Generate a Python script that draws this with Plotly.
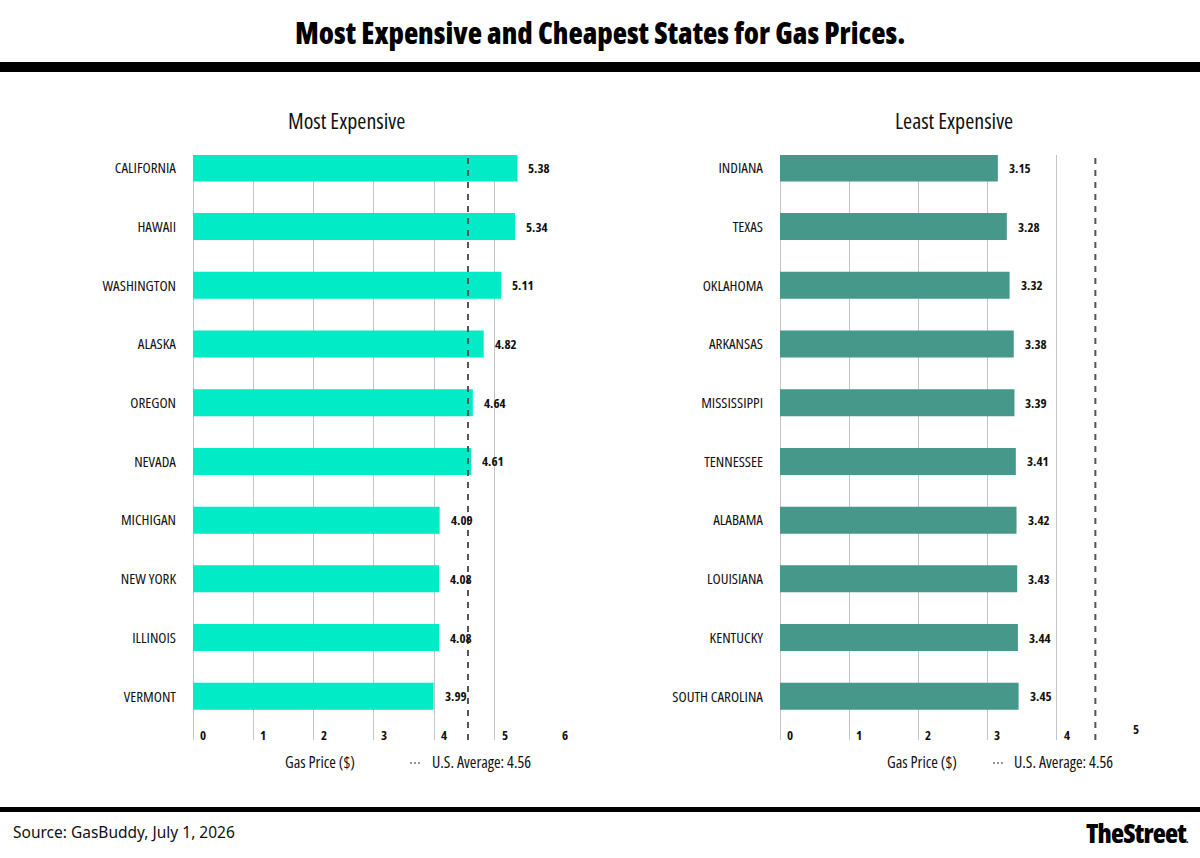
import plotly.graph_objects as go

# ---- data ----
exp_states = ["CALIFORNIA", "HAWAII", "WASHINGTON", "ALASKA", "OREGON",
              "NEVADA", "MICHIGAN", "NEW YORK", "ILLINOIS", "VERMONT"]
exp_prices = [5.38, 5.34, 5.11, 4.82, 4.64, 4.61, 4.09, 4.08, 4.08, 3.99]

cheap_states = ["INDIANA", "TEXAS", "OKLAHOMA", "ARKANSAS", "MISSISSIPPI",
                "TENNESSEE", "ALABAMA", "LOUISIANA", "KENTUCKY", "SOUTH CAROLINA"]
cheap_prices = [3.15, 3.28, 3.32, 3.38, 3.39, 3.41, 3.42, 3.43, 3.44, 3.45]

us_average = 4.56
left_ticks = [0, 1, 2, 3, 4, 5, 6]
right_ticks = [0, 1, 2, 3, 4, 5]

title_text = "Most Expensive and Cheapest States for Gas Prices."
left_title = "Most Expensive"
right_title = "Least Expensive"
source_text = "Source: GasBuddy, July 1, 2026"
brand_text = "TheStreet"

# ---- styling ----
W, H = 1200, 858
FAM = "Open Sans, Roboto, sans-serif"
LEFT_COLOR = "#00EBC6"
RIGHT_COLOR = "#46998A"
GRID = "#c4c4c4"


def c(text, extra=""):
    return f"<span style='font-stretch:condensed;{extra}'>{text}</span>"


def px(xpix):
    return xpix / W


def py(ypix):
    return 1 - ypix / H


fig = go.Figure()

fig.add_trace(go.Bar(x=exp_prices, y=exp_states, orientation="h",
                     marker=dict(color=LEFT_COLOR, line=dict(width=0)),
                     width=0.46, xaxis="x", yaxis="y", showlegend=False,
                     hoverinfo="x+y"))
fig.add_trace(go.Bar(x=cheap_prices, y=cheap_states, orientation="h",
                     marker=dict(color=RIGHT_COLOR, line=dict(width=0)),
                     width=0.46, xaxis="x2", yaxis="y2", showlegend=False,
                     hoverinfo="x+y"))

ydom = [py(740), py(155)]
yrange = [9.745, -0.22]
tickfont = dict(family=FAM, size=15, color="#111", weight=500)

fig.update_layout(
    width=W, height=H,
    margin=dict(l=0, r=0, t=0, b=0),
    paper_bgcolor="white", plot_bgcolor="white",
    xaxis=dict(domain=[px(193), px(555)], range=[0, 6.003], dtick=1,
               showgrid=True, gridcolor=GRID, gridwidth=1,
               zeroline=True, zerolinecolor=GRID, zerolinewidth=1,
               showticklabels=False, showline=False, fixedrange=True),
    yaxis=dict(domain=ydom, anchor="x", type="category",
               categoryorder="array", categoryarray=exp_states,
               tickmode="array", tickvals=exp_states,
               ticktext=[c(s) for s in exp_states],
               range=yrange, showgrid=False, zeroline=False, showline=False,
               ticks="", ticklabelstandoff=16, tickfont=tickfont, fixedrange=True),
    xaxis2=dict(domain=[px(780), px(1126)], range=[0, 5.003], dtick=1,
                showgrid=True, gridcolor=GRID, gridwidth=1,
                zeroline=True, zerolinecolor=GRID, zerolinewidth=1,
                showticklabels=False, showline=False, anchor="y2", fixedrange=True),
    yaxis2=dict(domain=ydom, anchor="x2", type="category",
                categoryorder="array", categoryarray=cheap_states,
                tickmode="array", tickvals=cheap_states,
                ticktext=[c(s) for s in cheap_states],
                range=yrange, showgrid=False, zeroline=False, showline=False,
                ticks="", ticklabelstandoff=16, tickfont=tickfont, fixedrange=True),
)

shapes = []
# header / footer rules
shapes.append(dict(type="rect", xref="paper", yref="paper", x0=0, x1=1,
                   y0=py(72), y1=py(62), fillcolor="black", line=dict(width=0)))
shapes.append(dict(type="rect", xref="paper", yref="paper", x0=0, x1=1,
                   y0=py(812), y1=py(807), fillcolor="black", line=dict(width=0)))
# average lines
for xr, yr in (("x", "y domain"), ("x2", "y2 domain")):
    shapes.append(dict(type="line", xref=xr, yref=yr, x0=us_average, x1=us_average,
                       y0=0, y1=1, layer="above",
                       line=dict(color="#555555", width=2, dash="6px,6px")))
# legend dash swatches
for x0 in (410, 993):
    shapes.append(dict(type="line", xref="paper", yref="paper",
                       x0=px(x0), x1=px(x0 + 12), y0=py(763), y1=py(763),
                       line=dict(color="#777777", width=1.5, dash="2px,2px")))
fig.update_layout(shapes=shapes)

ann = []
ann.append(dict(text=c(title_text), xref="paper", yref="paper",
                x=0.5, y=py(33), xanchor="center", yanchor="middle", showarrow=False,
                font=dict(family=FAM, size=29.5, color="black", weight=800)))
ann.append(dict(text=c(left_title), xref="paper", yref="paper", x=px(346), y=py(120),
                xanchor="center", yanchor="middle", showarrow=False,
                font=dict(family=FAM, size=22, color="#111")))
ann.append(dict(text=c(right_title), xref="paper", yref="paper", x=px(954), y=py(120),
                xanchor="center", yanchor="middle", showarrow=False,
                font=dict(family=FAM, size=22, color="#111")))

# value labels
for xr, yr, states, prices in (("x", "y", exp_states, exp_prices),
                               ("x2", "y2", cheap_states, cheap_prices)):
    for s, v in zip(states, prices):
        ann.append(dict(text=c(f"{v:.2f}"), xref=xr, yref=yr, x=v, y=s,
                        xanchor="left", yanchor="middle", xshift=9, showarrow=False,
                        font=dict(family=FAM, size=13, color="#111", weight=700)))

# tick labels at bottom inside plot
for xr, ticks in (("x", left_ticks), ("x2", right_ticks)):
    for t in ticks:
        yy = py(729) if (xr == "x2" and t == 5) else py(735)
        ann.append(dict(text=c(str(t)), xref=xr, yref="paper", x=t, y=yy,
                        xanchor="left", yanchor="middle", xshift=5, showarrow=False,
                        font=dict(family=FAM, size=13, color="#111", weight=700)))

# legend-like texts
for cx, lx in ((320, 430), (922, 1012)):
    ann.append(dict(text=c("Gas Price ($)"), xref="paper", yref="paper", x=px(cx), y=py(762),
                    xanchor="center", yanchor="middle", showarrow=False,
                    font=dict(family=FAM, size=16, color="#111")))
    ann.append(dict(text=c(f"U.S. Average: {us_average:.2f}"), xref="paper", yref="paper",
                    x=px(lx), y=py(762), xanchor="left", yanchor="middle", showarrow=False,
                    font=dict(family=FAM, size=16, color="#111")))

ann.append(dict(text=source_text, xref="paper", yref="paper", x=px(11), y=py(832),
                xanchor="left", yanchor="middle", showarrow=False,
                font=dict(family="Noto Sans, Open Sans, sans-serif", size=15.5, color="#111")))
ann.append(dict(text=c(brand_text, "letter-spacing:-0.8px") + "<span style='font-size:8px'>.</span>",
                xref="paper", yref="paper", x=px(1190), y=py(832),
                xanchor="right", yanchor="middle", showarrow=False,
                font=dict(family=FAM, size=27, color="black", weight=800)))
fig.update_layout(annotations=ann)

fig.write_html("out.html")
